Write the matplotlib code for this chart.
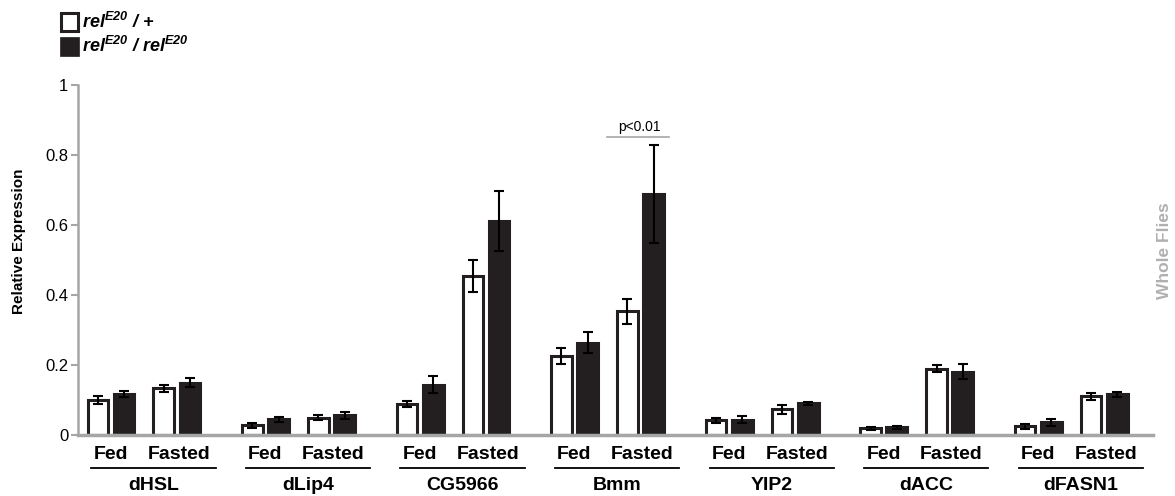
import numpy as np
import matplotlib.pyplot as plt
from matplotlib.patches import Rectangle

plt.rcParams['font.family'] = ['Liberation Sans', 'DejaVu Sans']
plt.rcParams['mathtext.fontset'] = 'custom'
plt.rcParams['mathtext.bfit'] = 'Liberation Sans:italic:bold'
plt.rcParams['mathtext.rm'] = 'Liberation Sans:bold'

# data
genes = ["dHSL", "dLip4", "CG5966", "Bmm", "YIP2", "dACC", "dFASN1"]
conditions = ["Fed", "Fasted"]

het_fed = [0.100, 0.028, 0.089, 0.226, 0.042, 0.019, 0.025]
het_fed_err = [0.011, 0.007, 0.008, 0.023, 0.007, 0.004, 0.007]
hom_fed = [0.118, 0.045, 0.144, 0.264, 0.043, 0.022, 0.037]
hom_fed_err = [0.008, 0.007, 0.024, 0.030, 0.010, 0.004, 0.010]
het_fasted = [0.134, 0.050, 0.454, 0.353, 0.073, 0.189, 0.111]
het_fasted_err = [0.010, 0.007, 0.046, 0.035, 0.013, 0.010, 0.010]
hom_fasted = [0.149, 0.056, 0.612, 0.688, 0.091, 0.181, 0.117]
hom_fasted_err = [0.013, 0.010, 0.085, 0.140, 0.004, 0.022, 0.007]

dark = "#231f20"
grey = "#a6a6a6"

fig = plt.figure(figsize=(11.75, 4.96), dpi=100)
ax = fig.add_axes([78/1175, 61/496, (1153-78)/1175, 350/496])

x = np.arange(len(genes))
w = 0.135
offs = [-0.298, -0.129, 0.129, 0.298]
series = [(het_fed, het_fed_err, "white"), (hom_fed, hom_fed_err, dark),
          (het_fasted, het_fasted_err, "white"), (hom_fasted, hom_fasted_err, dark)]

for o, (vals, errs, fc) in zip(offs, series):
    ax.bar(x + o, vals, width=w, color=fc, edgecolor=dark, linewidth=2.2, zorder=2)
    ax.errorbar(x + o, vals, yerr=errs, fmt='none', ecolor='black',
                elinewidth=1.5, capsize=3.8, capthick=1.5, zorder=3)

ax.set_xlim(-0.427, 6.53)
ax.set_ylim(0, 1)
ax.set_yticks([0, 0.2, 0.4, 0.6, 0.8, 1])
ax.set_yticklabels(["0", "0.2", "0.4", "0.6", "0.8", "1"], fontsize=12)
ax.set_xticks([])
ax.tick_params(axis='y', length=5, width=1.5, color=grey, pad=2)
for s in ["top", "right"]:
    ax.spines[s].set_visible(False)
ax.spines["left"].set_color(grey)
ax.spines["left"].set_linewidth(1.8)
ax.spines["bottom"].set_color(grey)
ax.spines["bottom"].set_linewidth(2.5)
ax.set_ylabel("Relative Expression", fontsize=11, fontweight='bold')
ax.yaxis.set_label_coords(-0.048, 0.554)

# category labels below the axis
for i, g in enumerate(genes):
    ax.text(i - 0.214, -0.057, conditions[0], ha='center', va='center',
            fontsize=14, fontweight='bold', clip_on=False)
    ax.text(i + 0.225, -0.057, conditions[1], ha='center', va='center',
            fontsize=14, fontweight='bold', clip_on=False)
    ax.plot([i - 0.34, i + 0.465], [-0.093, -0.093], color='black', lw=1.3,
            clip_on=False)
    ax.text(i + 0.06, -0.143, g, ha='center', va='center',
            fontsize=14, fontweight='bold', clip_on=False)

# significance mark over Bmm fasted
ax.plot([3 - 0.005, 3 + 0.40], [0.852, 0.852], color=grey, lw=1.2)
ax.text(3 + 0.204, 0.88, "p<0.01", ha='center', va='center', fontsize=10)

# legend
fig.patches.append(Rectangle((61/1175, 1 - 31/496), 17/1175, 18/496,
                             transform=fig.transFigure, facecolor='white',
                             edgecolor=dark, linewidth=2.2))
fig.patches.append(Rectangle((60/1175, 1 - 56/496), 19/1175, 19/496,
                             transform=fig.transFigure, facecolor=dark,
                             edgecolor=dark, linewidth=0.5))
fig.text(82/1175, 1 - 22/496, r"$\mathbfit{rel}^{\mathbfit{E20}}$ / +", fontsize=13,
         fontweight='bold', style='italic', va='center')
fig.text(82/1175, 1 - 46/496,
         r"$\mathbfit{rel}^{\mathbfit{E20}}$ / $\mathbfit{rel}^{\mathbfit{E20}}$",
         fontsize=13, fontweight='bold', style='italic', va='center')

fig.text(1157/1175, 1 - 251/496, "Whole Flies", rotation=90, ha='left', va='center',
         fontsize=12.5, fontweight='bold', color='#b0b0b0')

plt.savefig("out.png", dpi=100)
